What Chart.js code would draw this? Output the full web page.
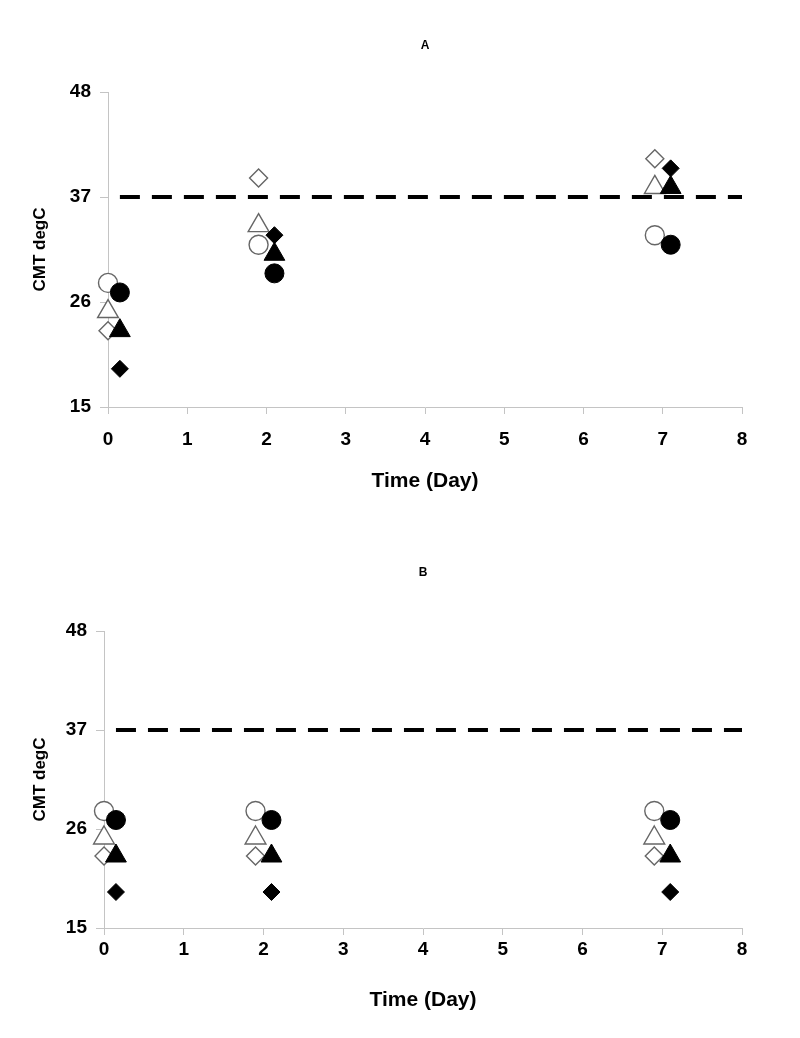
<!DOCTYPE html>
<html>
<head>
<meta charset="utf-8">
<script src="https://cdn.jsdelivr.net/npm/chart.js@4.4.1/dist/chart.umd.min.js"></script>
<style>
  body { margin: 0; background: #fff; }
  canvas { display: block; }
</style>
</head>
<body>
<canvas id="chartA" width="800" height="519"></canvas>
<canvas id="chartB" width="800" height="519"></canvas>
<script>
// Posiciones en X (días) de los marcadores abiertos y rellenos
const openDays = [0, 1.9, 6.9];
const filledDays = [0.15, 2.1, 7.1];

// Panel A
const aOpenCircle = [28, 32, 33];
const aFilledCircle = [27, 29, 32];
const aOpenTriangle = [25, 34, 38];
const aFilledTriangle = [23, 31, 38];
const aOpenDiamond = [23, 39, 41];
const aFilledDiamond = [19, 33, 40];

// Panel B
const bOpenCircle = [28, 28, 28];
const bFilledCircle = [27, 27, 27];
const bOpenTriangle = [25, 25, 25];
const bFilledTriangle = [23, 23, 23];
const bOpenDiamond = [23, 23, 23];
const bFilledDiamond = [19, 19, 19];

// Linea de referencia 37 degC
const refLineX = [0.15, 8];
const refLineY = 37;

// Ejes
const yTicks = [15, 26, 37, 48];
const xMin = 0;
const xMax = 8;

const axisGrey = '#c4c4c4';
const openStroke = '#666';
const tickFont = { family: 'Liberation Sans', size: 19, weight: 'bold' };
const xTitleFont = { family: 'Liberation Sans', size: 21, weight: 'bold' };
const yTitleFont = { family: 'Liberation Sans', size: 17, weight: 'bold' };

function pts(xs, ys) {
  return xs.map((x, i) => ({ x: x, y: ys[i] }));
}

function marker(xs, ys, style, filled, r) {
  return {
    type: 'scatter',
    data: pts(xs, ys),
    pointStyle: style,
    pointRadius: r,
    pointHoverRadius: r,
    pointBackgroundColor: filled ? '#000' : '#fff',
    pointBorderColor: filled ? '#000' : openStroke,
    pointBorderWidth: filled ? 1 : 1.4,
    showLine: false,
    clip: false,
    order: filled ? 1 : 2
  };
}

function buildDatasets(oc, fc, ot, ft, od, fd) {
  return [
    {
      type: 'line',
      data: refLineX.map(x => ({ x: x, y: refLineY })),
      borderColor: '#000',
      borderWidth: 4,
      borderDash: [20, 12],
      pointRadius: 0,
      fill: false,
      clip: false,
      order: 10
    },
    marker(openDays, od, 'rectRot', false, 9),
    marker(openDays, ot, 'triangle', false, 12),
    marker(openDays, oc, 'circle', false, 9.5),
    marker(filledDays, fd, 'rectRot', true, 8.5),
    marker(filledDays, ft, 'triangle', true, 12),
    marker(filledDays, fc, 'circle', true, 9.5)
  ];
}

function buildOptions(label, yWidth, xHeight, titleTop, titleBottom, labelPad) {
  return {
    responsive: false,
    animation: false,
    layout: { padding: { left: 0, right: 58, top: 0, bottom: 0 } },
    plugins: {
      legend: { display: false },
      tooltip: { enabled: false },
      title: {
        display: true,
        text: label,
        fullSize: false,
        color: '#000',
        font: { family: 'Liberation Sans', size: 12, weight: 'bold' },
        padding: { top: titleTop, bottom: titleBottom }
      }
    },
    scales: {
      x: {
        type: 'linear',
        min: xMin,
        max: xMax,
        afterFit: s => { s.height = xHeight; },
        ticks: { stepSize: 1, color: '#000', font: tickFont, padding: labelPad },
        grid: { drawOnChartArea: false, drawTicks: true, tickLength: 7, color: axisGrey },
        border: { color: axisGrey, width: 1 },
        title: {
          display: true,
          text: 'Time (Day)',
          color: '#000',
          font: xTitleFont,
          padding: { top: 0, bottom: 25 }
        }
      },
      y: {
        type: 'linear',
        min: yTicks[0],
        max: yTicks[yTicks.length - 1],
        afterFit: s => { s.width = yWidth; },
        afterBuildTicks: s => { s.ticks = yTicks.map(v => ({ value: v })); },
        ticks: { color: '#000', font: tickFont, padding: 9 },
        grid: { drawOnChartArea: false, drawTicks: true, tickLength: 8, color: axisGrey },
        border: { color: axisGrey, width: 1 },
        title: {
          display: true,
          text: 'CMT degC',
          color: '#000',
          font: yTitleFont,
          padding: { top: 30, bottom: 0 }
        }
      }
    }
  };
}

const ctxA = document.getElementById('chartA');
const ctxB = document.getElementById('chartB');

new Chart(ctxA, {
  type: 'scatter',
  data: {
    datasets: buildDatasets(aOpenCircle, aFilledCircle, aOpenTriangle, aFilledTriangle, aOpenDiamond, aFilledDiamond)
  },
  options: buildOptions('A', 108, 112, 38, 39.6, 14)
});

new Chart(ctxB, {
  type: 'scatter',
  data: {
    datasets: buildDatasets(bOpenCircle, bFilledCircle, bOpenTriangle, bFilledTriangle, bOpenDiamond, bFilledDiamond)
  },
  options: buildOptions('B', 104, 110, 46, 51.6, 3)
});
</script>
</body>
</html>
